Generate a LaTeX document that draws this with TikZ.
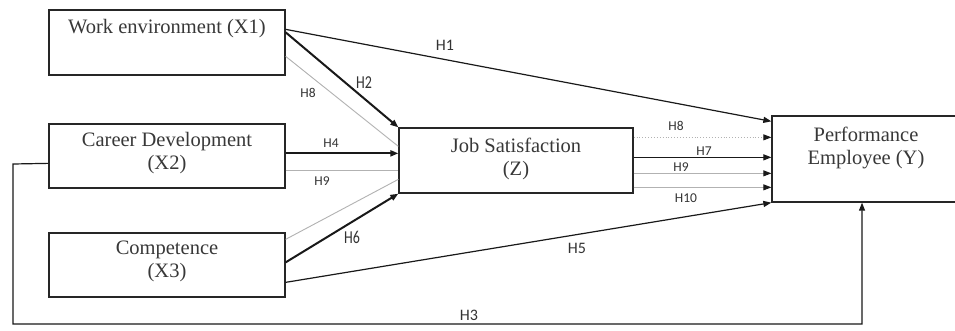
\documentclass[tikz,border=0pt]{standalone}
\usepackage{fontspec}
\setmainfont{Liberation Serif}
\newfontfamily\labfont{Carlito}
\usetikzlibrary{arrows.meta,calc}
\begin{document}
\begin{tikzpicture}[x=1pt,y=-1pt,
  box/.style={draw=black!85, line width=1.3pt, inner sep=0pt},
  ttext/.style={font=\fontsize{20.5}{23}\selectfont, text=black!78, align=center, inner sep=0pt},
  hlab/.style={font=\labfont\fontsize{13.5}{14}\selectfont, text=black!80, inner sep=0pt},
  hbig/.style={font=\labfont\fontsize{16}{16}\selectfont, text=black!80, inner sep=0pt},
  htall/.style={font=\labfont\fontsize{14}{14}\selectfont, text=black!80, inner sep=0pt, yscale=1.3, transform shape},
  tip/.tip={Triangle[length=8pt,width=6pt,color=black!90]},
  blk/.style={draw=black!90, line width=1.2pt, -tip},
  thk/.style={draw=black!90, line width=2pt, -tip},
  gry/.style={draw=black!30, line width=0.9pt},
  gryarr/.style={gry, -tip},
]
\useasboundingbox[fill=white] (0,0) rectangle (955,330);

% boxes
\node[box, minimum width=236pt, minimum height=65pt] (X1) at (167,42.5) {};
\node[box, minimum width=236pt, minimum height=64pt] (X2) at (167,156) {};
\node[box, minimum width=236pt, minimum height=64pt] (X3) at (167,265) {};
\node[box, minimum width=234pt, minimum height=65pt] (Z) at (516,160.5) {};
\node[box, minimum width=210pt, minimum height=86pt] (Y) at (877,159) {};

% box texts
\node[ttext] (X1t) at (167,28.5) {Work environment (X1)};
\node[ttext] (X2t) at (167,153) {Career Development\\(X2)};
\node[ttext] (X3t) at (167,261) {Competence\\(X3)};
\node[ttext] (Zt) at (516,159) {Job Satisfaction\\(Z)};
\node[ttext] (Yt) at (866,148) {Performance\\Employee (Y)};

% X1 -> Y (H1)
\draw[blk] ($(X1.north east)+(0,20)$) -- ($(Y.north west)+(0,6)$);
% X1 -> Z (H2)
\draw[thk] ($(X1.north east)+(0,23)$) -- (Z.north west);
% X1 -> Z gray (H8)
\draw[gry] ($(X1.north east)+(0,47)$) -- ($(Z.north west)+(0,19)$);
% X2 -> Z (H4)
\draw[thk] ($(X2.north east)+(0,30)$) -- ($(Z.north west)+(0,26)$);
% X2 -> Z gray (H9)
\draw[gry] ($(X2.north east)+(0,47)$) -- ($(Z.north west)+(0,43)$);
% X3 -> Z gray
\draw[gry] ($(X3.north east)+(0,7)$) -- ($(Z.north west)+(0,52)$);
% X3 -> Z (H6)
\draw[thk] ($(X3.north east)+(0,30)$) -- (Z.south west);
% X3 -> Y (H5)
\draw[blk] ($(X3.north east)+(0,50)$) -- (Y.south west);

% Z -> Y
\draw[gryarr, dotted] ($(Z.north east)+(0,10)$) -- ($(Y.north west)+(0,22)$);
\draw[blk] ($(Z.north east)+(0,30)$) -- ($(Y.north west)+(0,42)$);
\draw[gryarr] ($(Z.north east)+(0,46)$) -- ($(Y.north west)+(0,58)$);
\draw[gryarr] ($(Z.north east)+(0,60)$) -- ($(Y.north west)+(0,72)$);

% X2 -> Y (H3)
\coordinate (c1) at (13,164);
\coordinate (c2) at (13,324);
\coordinate (c3) at (862,324);
\draw[blk] ($(X2.north west)+(0,40)$) -- (c1) -- (c2) -- (c3) -- (c3 |- Y.south);

% labels
\node[hbig] (lH1) at (445,45) {H1};
\node[htall] (lH2) at (364,83) {H2};
\node[hlab] (lH8a) at (308,93) {H8};
\node[hlab] (lH4) at (331,143) {H4};
\node[hlab] (lH9a) at (322,181) {H9};
\node[htall] (lH6) at (352,237) {H6};
\node[hbig] (lH5) at (577,248) {H5};
\node[hlab] (lH8b) at (676,126) {H8};
\node[hlab] (lH7) at (704,151) {H7};
\node[hlab] (lH9b) at (681,167) {H9};
\node[hlab] (lH10) at (686,198) {H10};
\node[hbig] (lH3) at (469,315) {H3};
\end{tikzpicture}
\end{document}
